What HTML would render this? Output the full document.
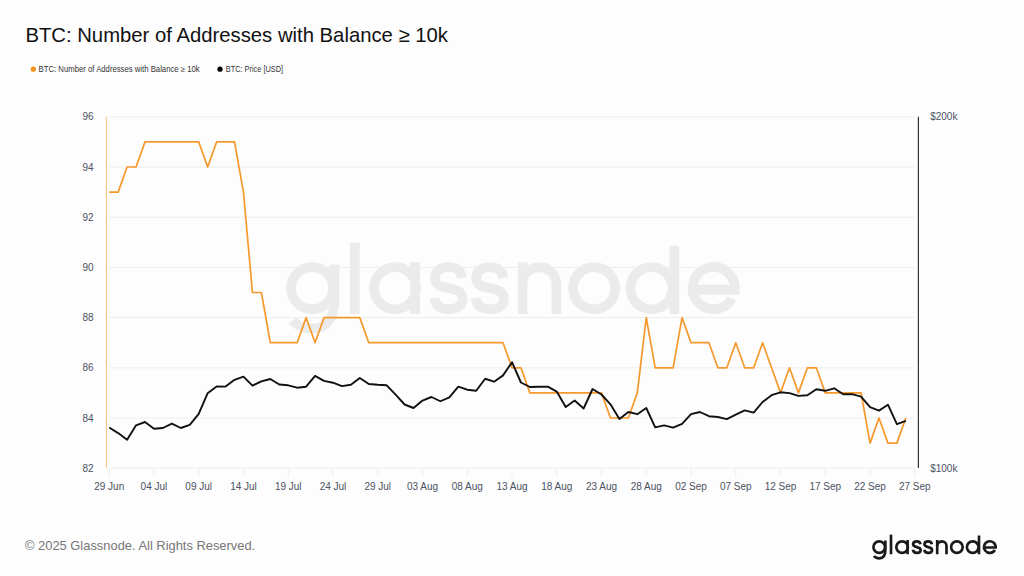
<!DOCTYPE html>
<html><head><meta charset="utf-8"><style>
html,body{margin:0;padding:0;background:#fdfdfd;}
body{width:1024px;height:576px;position:relative;overflow:hidden;font-family:"Liberation Sans",sans-serif;}
svg{position:absolute;left:0;top:0;}
</style></head><body>
<svg width="1024" height="576" viewBox="0 0 1024 576">
<rect width="1024" height="576" fill="#fdfdfd"/>
<g transform="translate(286.25 262.3) scale(3.63)" fill="none" stroke="#ebebeb" stroke-width="2.65"><circle cx="7.12" cy="7.12" r="5.80"/><path d="M13.3 0.6V10C13.3 15.6 10.9 18.3 7.3 18.3C4.7 18.3 2.9 17.4 1.8 16.0"/><path d="M18.90 -5.40V14.25"/><circle cx="30.00" cy="7.12" r="5.80"/><path d="M35.50 0.00V14.25"/><path d="M48.42 4.34C47.97 1.91 46.67 1.32 44.77 1.32C42.49 1.32 40.98 2.49 40.98 4.34C40.98 6.43 42.88 6.78 44.77 7.12C47.05 7.59 48.57 8.05 48.57 10.03C48.57 12.00 47.05 12.93 44.77 12.93C42.49 12.93 41.13 12.00 40.82 9.79"/><path d="M59.82 4.34C59.36 1.91 58.06 1.32 56.15 1.32C53.86 1.32 52.33 2.49 52.33 4.34C52.33 6.43 54.24 6.78 56.15 7.12C58.44 7.59 59.97 8.05 59.97 10.03C59.97 12.00 58.44 12.93 56.15 12.93C53.86 12.93 52.48 12.00 52.17 9.79"/><path d="M65.1 0V14.25"/><path d="M65.1 5.98A4.65 4.65 0 0 1 74.4 5.98V14.25"/><circle cx="84.80" cy="7.12" r="5.80"/><circle cx="100.60" cy="7.12" r="5.80"/><path d="M106.90 -4.50V14.25"/><path d="M110.62 7.53H124.88M123.54 7.53A5.80 5.80 0 1 0 122.77 10.02"/></g>
<g stroke="#ededed" stroke-width="1"><line x1="109.3" x2="914.8" y1="468.20" y2="468.20"/><line x1="109.3" x2="914.8" y1="418.00" y2="418.00"/><line x1="109.3" x2="914.8" y1="367.80" y2="367.80"/><line x1="109.3" x2="914.8" y1="317.60" y2="317.60"/><line x1="109.3" x2="914.8" y1="267.40" y2="267.40"/><line x1="109.3" x2="914.8" y1="217.20" y2="217.20"/><line x1="109.3" x2="914.8" y1="167.00" y2="167.00"/><line x1="109.3" x2="914.8" y1="116.80" y2="116.80"/><line x1="109.20" x2="109.20" y1="468.4" y2="476.4"/><line x1="153.96" x2="153.96" y1="468.4" y2="476.4"/><line x1="198.71" x2="198.71" y1="468.4" y2="476.4"/><line x1="243.47" x2="243.47" y1="468.4" y2="476.4"/><line x1="288.22" x2="288.22" y1="468.4" y2="476.4"/><line x1="332.98" x2="332.98" y1="468.4" y2="476.4"/><line x1="377.73" x2="377.73" y1="468.4" y2="476.4"/><line x1="422.49" x2="422.49" y1="468.4" y2="476.4"/><line x1="467.24" x2="467.24" y1="468.4" y2="476.4"/><line x1="512.00" x2="512.00" y1="468.4" y2="476.4"/><line x1="556.75" x2="556.75" y1="468.4" y2="476.4"/><line x1="601.50" x2="601.50" y1="468.4" y2="476.4"/><line x1="646.26" x2="646.26" y1="468.4" y2="476.4"/><line x1="691.02" x2="691.02" y1="468.4" y2="476.4"/><line x1="735.77" x2="735.77" y1="468.4" y2="476.4"/><line x1="780.53" x2="780.53" y1="468.4" y2="476.4"/><line x1="825.28" x2="825.28" y1="468.4" y2="476.4"/><line x1="870.04" x2="870.04" y1="468.4" y2="476.4"/><line x1="914.79" x2="914.79" y1="468.4" y2="476.4"/></g>
<line x1="106.4" x2="106.4" y1="116.8" y2="468" stroke="#f7931a" stroke-opacity="0.6" stroke-width="1"/>
<line x1="918.4" x2="918.4" y1="116.8" y2="468" stroke="#333" stroke-width="1.2"/>
<polyline points="109.20,192.10 118.15,192.10 127.10,167.00 136.05,167.00 145.00,141.90 153.96,141.90 162.91,141.90 171.86,141.90 180.81,141.90 189.76,141.90 198.71,141.90 207.66,167.00 216.61,141.90 225.56,141.90 234.51,141.90 243.47,192.10 252.42,292.50 261.37,292.50 270.32,342.70 279.27,342.70 288.22,342.70 297.17,342.70 306.12,317.60 315.07,342.70 324.02,317.60 332.98,317.60 341.93,317.60 350.88,317.60 359.83,317.60 368.78,342.70 377.73,342.70 386.68,342.70 395.63,342.70 404.58,342.70 413.53,342.70 422.49,342.70 431.44,342.70 440.39,342.70 449.34,342.70 458.29,342.70 467.24,342.70 476.19,342.70 485.14,342.70 494.09,342.70 503.04,342.70 512.00,367.80 520.95,367.80 529.90,392.90 538.85,392.90 547.80,392.90 556.75,392.90 565.70,392.90 574.65,392.90 583.60,392.90 592.55,392.90 601.50,392.90 610.46,418.00 619.41,418.00 628.36,418.00 637.31,392.90 646.26,317.60 655.21,367.80 664.16,367.80 673.11,367.80 682.06,317.60 691.02,342.70 699.97,342.70 708.92,342.70 717.87,367.80 726.82,367.80 735.77,342.70 744.72,367.80 753.67,367.80 762.62,342.70 771.57,367.80 780.53,392.90 789.48,367.80 798.43,392.90 807.38,367.80 816.33,367.80 825.28,392.90 834.23,392.90 843.18,392.90 852.13,392.90 861.08,392.90 870.04,443.10 878.99,418.00 887.94,443.10 896.89,443.10 905.84,418.00" fill="none" stroke="#f6992c" stroke-width="1.7" stroke-linejoin="round"/>
<polyline points="109.20,427.50 118.15,433.10 127.10,439.70 136.05,425.30 145.00,422.00 153.96,428.75 162.91,428.00 171.86,423.60 180.81,428.00 189.76,424.80 198.71,413.90 207.66,393.20 216.61,386.50 225.56,386.60 234.51,379.80 243.47,376.70 252.42,385.60 261.37,381.40 270.32,379.00 279.27,384.50 288.22,385.30 297.17,387.70 306.12,386.70 315.07,375.90 324.02,380.90 332.98,382.70 341.93,386.10 350.88,384.80 359.83,378.00 368.78,384.00 377.73,384.80 386.68,385.30 395.63,394.70 404.58,404.50 413.53,408.00 422.49,400.60 431.44,397.00 440.39,401.25 449.34,397.30 458.29,386.60 467.24,389.70 476.19,390.80 485.14,378.75 494.09,381.70 503.04,375.40 512.00,362.20 520.95,382.50 529.90,387.00 538.85,386.70 547.80,386.70 556.75,391.60 565.70,407.00 574.65,400.50 583.60,408.50 592.55,389.00 601.50,394.50 610.46,404.30 619.41,419.00 628.36,412.00 637.31,414.20 646.26,408.00 655.21,427.40 664.16,425.40 673.11,427.70 682.06,423.80 691.02,414.20 699.97,412.00 708.92,416.20 717.87,417.00 726.82,419.10 735.77,414.70 744.72,410.40 753.67,412.60 762.62,402.00 771.57,395.20 780.53,392.30 789.48,393.10 798.43,395.90 807.38,395.30 816.33,389.20 825.28,390.80 834.23,388.30 843.18,394.20 852.13,394.20 861.08,396.60 870.04,407.20 878.99,410.60 887.94,404.70 896.89,424.20 905.84,420.80" fill="none" stroke="#111" stroke-width="1.9" stroke-linejoin="round"/>
<g font-family="Liberation Sans, sans-serif" font-size="10" fill="#4b5262"><text x="109.20" y="489.6" text-anchor="middle">29 Jun</text><text x="153.96" y="489.6" text-anchor="middle">04 Jul</text><text x="198.71" y="489.6" text-anchor="middle">09 Jul</text><text x="243.47" y="489.6" text-anchor="middle">14 Jul</text><text x="288.22" y="489.6" text-anchor="middle">19 Jul</text><text x="332.98" y="489.6" text-anchor="middle">24 Jul</text><text x="377.73" y="489.6" text-anchor="middle">29 Jul</text><text x="422.49" y="489.6" text-anchor="middle">03 Aug</text><text x="467.24" y="489.6" text-anchor="middle">08 Aug</text><text x="512.00" y="489.6" text-anchor="middle">13 Aug</text><text x="556.75" y="489.6" text-anchor="middle">18 Aug</text><text x="601.50" y="489.6" text-anchor="middle">23 Aug</text><text x="646.26" y="489.6" text-anchor="middle">28 Aug</text><text x="691.02" y="489.6" text-anchor="middle">02 Sep</text><text x="735.77" y="489.6" text-anchor="middle">07 Sep</text><text x="780.53" y="489.6" text-anchor="middle">12 Sep</text><text x="825.28" y="489.6" text-anchor="middle">17 Sep</text><text x="870.04" y="489.6" text-anchor="middle">22 Sep</text><text x="914.79" y="489.6" text-anchor="middle">27 Sep</text><text x="93.6" y="471.80" text-anchor="end">82</text><text x="93.6" y="421.60" text-anchor="end">84</text><text x="93.6" y="371.40" text-anchor="end">86</text><text x="93.6" y="321.20" text-anchor="end">88</text><text x="93.6" y="271.00" text-anchor="end">90</text><text x="93.6" y="220.80" text-anchor="end">92</text><text x="93.6" y="170.60" text-anchor="end">94</text><text x="93.6" y="120.40" text-anchor="end">96</text>
<text x="930.2" y="120">$200k</text><text x="930.2" y="471.6">$100k</text></g>
<text x="25.4" y="41.8" font-family="Liberation Sans, sans-serif" font-size="20.3" fill="#111">BTC: Number of Addresses with Balance ≥ 10k</text>
<circle cx="33.3" cy="69.2" r="2.6" fill="#f7931a"/>
<text x="38.6" y="72" font-family="Liberation Sans, sans-serif" font-size="8.2" fill="#333" textLength="161" lengthAdjust="spacingAndGlyphs">BTC: Number of Addresses with Balance ≥ 10k</text>
<circle cx="220" cy="69.2" r="2.6" fill="#000"/>
<text x="225.8" y="72" font-family="Liberation Sans, sans-serif" font-size="8.2" fill="#333" textLength="57.3" lengthAdjust="spacingAndGlyphs">BTC: Price [USD]</text>
<text x="25" y="550.4" font-family="Liberation Sans, sans-serif" font-size="12.9" fill="#777">© 2025 Glassnode. All Rights Reserved.</text>
<g transform="translate(872.1 540)" fill="none" stroke="#1a1a1a" stroke-width="2.65"><circle cx="7.12" cy="7.12" r="5.80"/><path d="M13.3 0.6V10C13.3 15.6 10.9 18.3 7.3 18.3C4.7 18.3 2.9 17.4 1.8 16.0"/><path d="M18.90 -5.40V14.25"/><circle cx="30.00" cy="7.12" r="5.80"/><path d="M35.50 0.00V14.25"/><path d="M48.42 4.34C47.97 1.91 46.67 1.32 44.77 1.32C42.49 1.32 40.98 2.49 40.98 4.34C40.98 6.43 42.88 6.78 44.77 7.12C47.05 7.59 48.57 8.05 48.57 10.03C48.57 12.00 47.05 12.93 44.77 12.93C42.49 12.93 41.13 12.00 40.82 9.79"/><path d="M59.82 4.34C59.36 1.91 58.06 1.32 56.15 1.32C53.86 1.32 52.33 2.49 52.33 4.34C52.33 6.43 54.24 6.78 56.15 7.12C58.44 7.59 59.97 8.05 59.97 10.03C59.97 12.00 58.44 12.93 56.15 12.93C53.86 12.93 52.48 12.00 52.17 9.79"/><path d="M65.1 0V14.25"/><path d="M65.1 5.98A4.65 4.65 0 0 1 74.4 5.98V14.25"/><circle cx="84.80" cy="7.12" r="5.80"/><circle cx="100.60" cy="7.12" r="5.80"/><path d="M106.90 -4.50V14.25"/><path d="M110.62 7.53H124.88M123.54 7.53A5.80 5.80 0 1 0 122.77 10.02"/></g>
</svg>
</body></html>
